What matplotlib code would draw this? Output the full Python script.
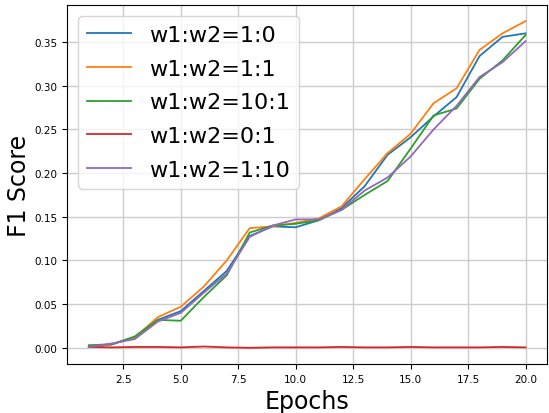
import matplotlib
matplotlib.use("Agg")
import matplotlib.pyplot as plt

epochs = list(range(1, 21))

f1_1_0 = [0.001, 0.004, 0.012, 0.032, 0.042, 0.065, 0.088, 0.128, 0.139, 0.138,
          0.146, 0.160, 0.185, 0.221, 0.241, 0.265, 0.287, 0.334, 0.356, 0.360]
f1_1_1 = [0.001, 0.004, 0.012, 0.035, 0.047, 0.070, 0.100, 0.137, 0.139, 0.143,
          0.148, 0.162, 0.193, 0.223, 0.245, 0.280, 0.297, 0.341, 0.360, 0.374]
f1_10_1 = [0.003, 0.004, 0.013, 0.032, 0.031, 0.058, 0.083, 0.132, 0.140, 0.142,
           0.146, 0.158, 0.175, 0.191, 0.228, 0.266, 0.274, 0.308, 0.329, 0.358]
f1_0_1 = [0.001, 0.0005, 0.001, 0.001, 0.0005, 0.0015, 0.0005, 0.0, 0.0005, 0.0005,
          0.0005, 0.001, 0.0005, 0.0005, 0.001, 0.0005, 0.0005, 0.0005, 0.001, 0.0005]
f1_1_10 = [0.001, 0.005, 0.010, 0.030, 0.040, 0.063, 0.085, 0.127, 0.140, 0.147,
           0.147, 0.158, 0.180, 0.195, 0.219, 0.250, 0.277, 0.310, 0.327, 0.351]

series = [
    ("w1:w2=1:0", f1_1_0),
    ("w1:w2=1:1", f1_1_1),
    ("w1:w2=10:1", f1_10_1),
    ("w1:w2=0:1", f1_0_1),
    ("w1:w2=1:10", f1_1_10),
]

fig, ax = plt.subplots(figsize=(5.49, 4.14), dpi=100)
fig.subplots_adjust(left=0.122, right=0.997, top=0.986, bottom=0.118)

for label, vals in series:
    ax.plot(epochs, vals, label=label, linewidth=1.3)

ax.set_xlabel("Epochs", fontsize=17)
ax.set_ylabel("F1 Score", fontsize=17, labelpad=2)
ax.tick_params(labelsize=7.5)
ax.grid(True, color="#cccccc", linewidth=1.0)
ax.legend(fontsize=16, loc="upper left", labelspacing=0.62)

plt.savefig("out.png", dpi=100)
